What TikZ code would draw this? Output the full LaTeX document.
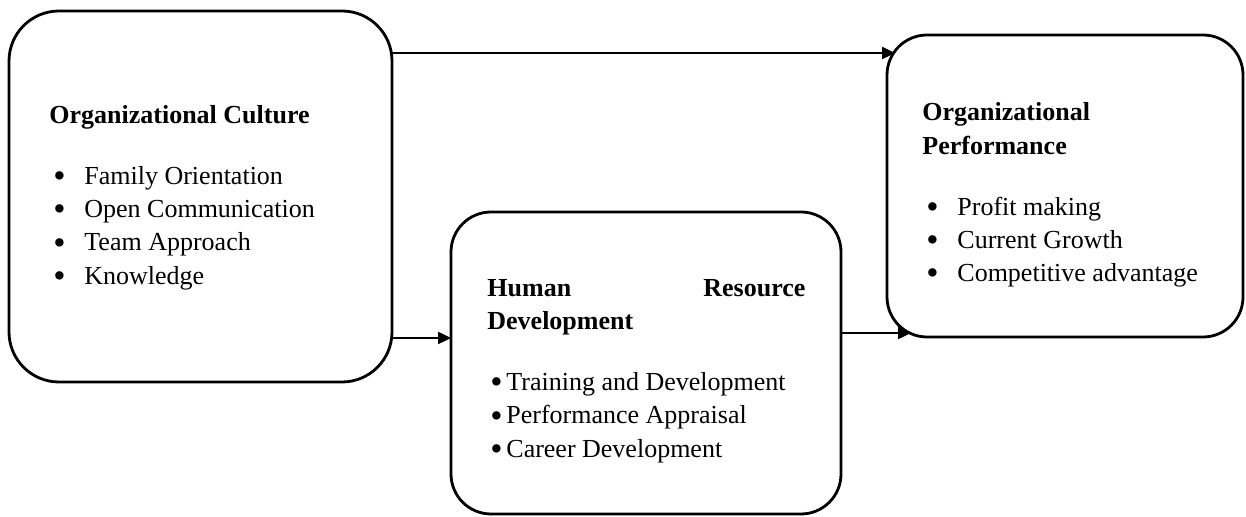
\documentclass[tikz,border=0pt]{standalone}
\usepackage{fontspec}
\setmainfont{Liberation Serif}
\usetikzlibrary{positioning,arrows.meta}

% bullet with a hanging gap before the item text
\newcommand{\bul}[1][15.5pt]{\hspace*{2pt}\makebox[#1][l]{\raisebox{-1.6pt}{\scalebox{1.35}{\textbullet}}}}

\tikzset{
  block/.style={draw, line width=1.4pt, rounded corners=20pt, inner sep=0pt, outer sep=0pt},
  blocktext/.style={align=left, inner sep=0pt, font=\fontsize{13}{16.6}\selectfont},
  link/.style={line width=1.2pt, -{Triangle[length=6.5pt,width=6pt]}}
}

\begin{document}
\begin{tikzpicture}[x=0.5pt,y=-0.5pt]
\useasboundingbox (0,0) rectangle (1246,517);

% boxes
\node[block, rounded corners=25pt, minimum width=191.5pt, minimum height=185.5pt] (culture) at (200.5,196.5) {};
\node[block, minimum width=195pt, minimum height=151pt] (hrd) at (646,363) {};
\node[block, minimum width=178pt, minimum height=151pt] (perf) at (1065,186) {};

% box contents
\node[blocktext, right=20pt of culture.west, yshift=-0.5pt] (culture-txt) {%
  \textbf{Organizational Culture}\\[14pt]
  \bul Family Orientation\\
  \bul Open Communication\\
  \bul Team Approach\\
  \bul Knowledge};
\node[blocktext, right=18pt of hrd.west, yshift=-4pt] (hrd-txt) {%
  \makebox[159pt][l]{\textbf{Human}\hfill\textbf{Resource}}\\
  \textbf{Development}\\[14pt]
  \hspace*{-0.5pt}\bul[8pt]Training and Development\\
  \hspace*{-0.5pt}\bul[8pt]Performance Appraisal\\
  \hspace*{-0.5pt}\bul[8pt]Career Development};
\node[blocktext, right=17.5pt of perf.west, yshift=-4.5pt] (perf-txt) {%
  \textbf{Organizational}\\
  \textbf{Performance}\\[14pt]
  \bul Profit making\\
  \bul Current Growth\\
  \bul Competitive advantage};

% arrows
\coordinate (hrd-in) at ([yshift=12.5pt]hrd.west);
\draw[link] ([yshift=-21pt]culture.north east) -- ([xshift=4pt,yshift=-9pt]perf.north west);
\draw[link] (culture.east |- hrd-in) -- (hrd-in);
\draw[link] ([yshift=15pt]hrd.east) -- ([xshift=12pt,yshift=2pt]perf.south west);
\end{tikzpicture}
\end{document}
